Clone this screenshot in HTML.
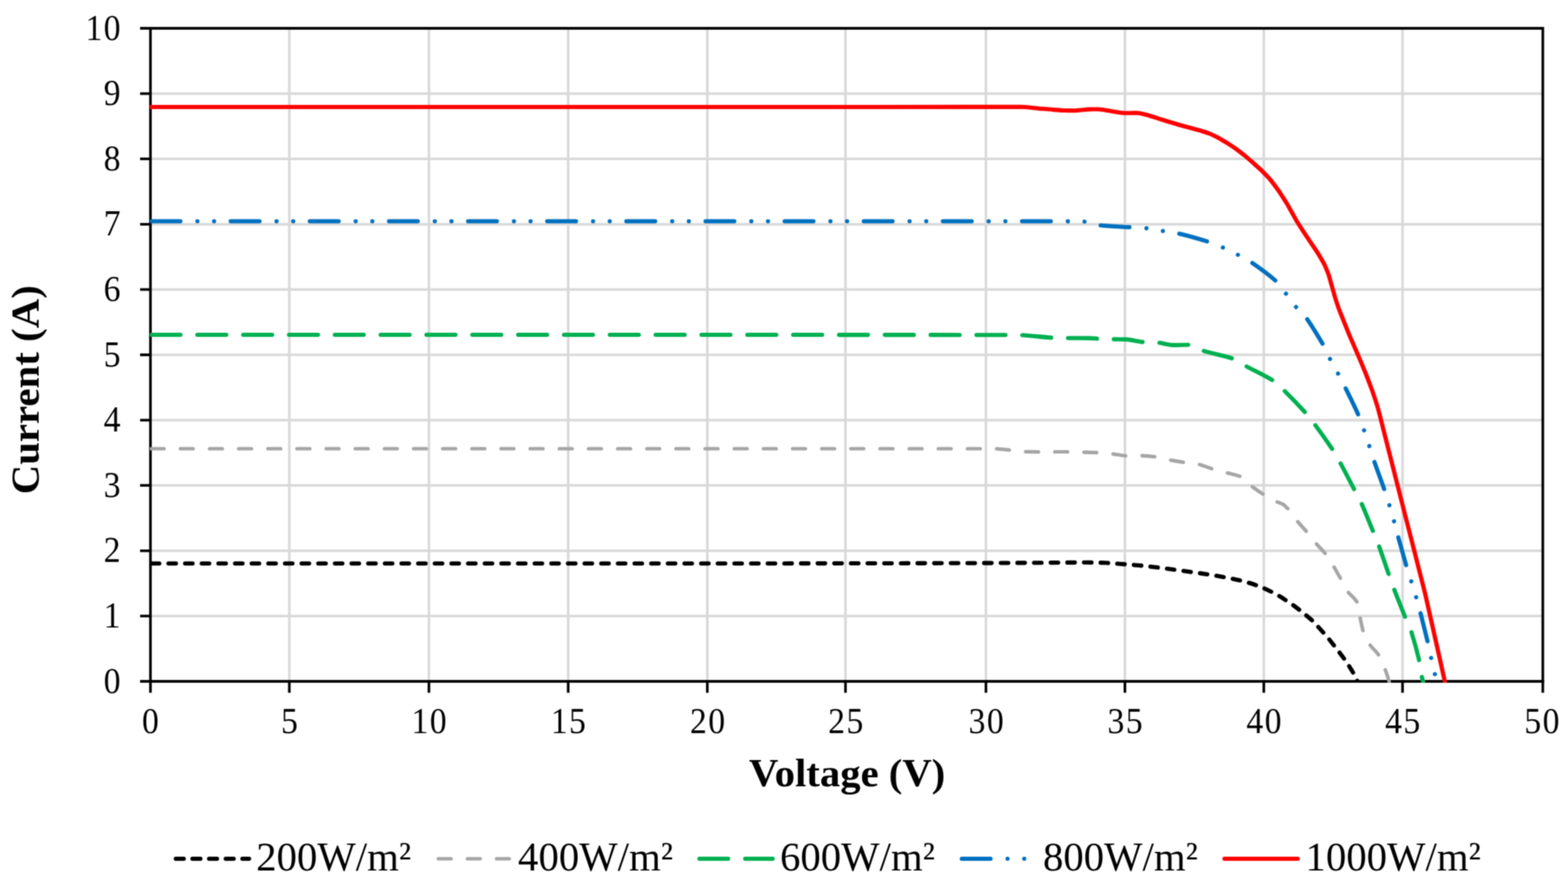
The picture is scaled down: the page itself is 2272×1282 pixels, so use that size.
<!DOCTYPE html>
<html lang="en"><head><meta charset="utf-8"><title>I-V curves at different irradiance</title>
<style>html,body{margin:0;padding:0;background:#fff}body{width:2272px;height:1282px;overflow:hidden}svg{display:block}text{font-family:"Liberation Serif","DejaVu Serif",serif;fill:#000}.tk{font-size:52.5px;letter-spacing:2.2px}.lg{font-size:59.1px}.tt{font-size:58px;font-weight:bold}.s{fill:none;stroke-linecap:round;stroke-linejoin:round}</style></head><body>
<svg width="2272" height="1282" viewBox="0 0 2272 1282">
<defs><filter id="soft" filterUnits="userSpaceOnUse" x="0" y="0" width="2272" height="1282" color-interpolation-filters="sRGB"><feConvolveMatrix order="3" kernelMatrix="1 2 1 2 4 2 1 2 1" divisor="16" edgeMode="duplicate" preserveAlpha="false"/></filter></defs>
<g filter="url(#soft)">
<rect width="2272" height="1282" fill="#fff"/>
<path d="M218.00 892.40H2235.50M218.00 797.80H2235.50M218.00 703.20H2235.50M218.00 608.60H2235.50M218.00 514.00H2235.50M218.00 419.40H2235.50M218.00 324.80H2235.50M218.00 230.20H2235.50M218.00 135.60H2235.50" stroke="#d9d9d9" stroke-width="3.70" fill="none"/>
<path d="M419.25 41.00V987.00M621.50 41.00V987.00M823.30 41.00V987.00M1024.90 41.00V987.00M1225.10 41.00V987.00M1428.60 41.00V987.00M1630.00 41.00V987.00M1831.25 41.00V987.00M2032.25 41.00V987.00" stroke="#d9d9d9" stroke-width="3.70" fill="none"/>
<path d="M203.00 41.00H2237.40M2235.50 41.00V1003.50M218.00 41.00V1003.50M203.00 987.00H218.00M203.00 892.40H218.00M203.00 797.80H218.00M203.00 703.20H218.00M203.00 608.60H218.00M203.00 514.00H218.00M203.00 419.40H218.00M203.00 324.80H218.00M203.00 230.20H218.00M203.00 135.60H218.00M419.25 987.00V1003.50M621.50 987.00V1003.50M823.30 987.00V1003.50M1024.90 987.00V1003.50M1225.10 987.00V1003.50M1428.60 987.00V1003.50M1630.00 987.00V1003.50M1831.25 987.00V1003.50M2032.25 987.00V1003.50" stroke="#000" stroke-width="3.80" fill="none"/>
<clipPath id="cp"><rect x="217.00" y="41.00" width="2018.50" height="948.10"/></clipPath>
<path d="M203.00 987.00H2237.40" stroke="#000" stroke-width="3.80" fill="none"/>
<g clip-path="url(#cp)">
<path class="s" d="M217.60 816.30C345.07 816.30 472.53 816.30 600.00 816.30C733.33 816.30 866.67 816.30 1000.00 816.30C1133.33 816.22 1266.67 816.01 1400.00 815.75C1433.33 815.63 1466.67 815.43 1500.00 815.25C1525.00 815.10 1550.00 814.83 1575.00 814.75C1583.33 814.83 1591.67 815.03 1600.00 815.25C1608.33 815.66 1616.67 816.40 1625.00 817.00C1633.33 817.64 1641.67 818.28 1650.00 819.00C1658.33 819.84 1666.67 820.79 1675.00 821.75C1683.33 822.78 1691.67 823.89 1700.00 825.00C1708.33 826.14 1716.67 827.33 1725.00 828.50C1733.33 829.67 1741.67 830.77 1750.00 832.00C1758.33 833.34 1766.67 834.75 1775.00 836.25C1783.33 837.90 1791.67 839.56 1800.00 841.50C1808.33 843.82 1816.67 846.40 1825.00 849.30C1833.33 852.82 1841.67 856.93 1850.00 861.25C1858.33 866.21 1866.67 871.77 1875.00 877.50C1883.33 883.81 1891.67 890.33 1900.00 897.60C1908.33 905.96 1916.67 915.44 1925.00 925.00C1933.33 935.33 1941.67 945.97 1950.00 957.50C1954.17 963.83 1958.33 970.24 1962.50 977.50C1964.00 980.46 1965.50 983.83 1967.00 987.00" stroke="#000000" stroke-width="6.10" stroke-dasharray="10.79 13.33" stroke-dashoffset="-2.40"/>
<path class="s" d="M217.60 650.00C345.07 650.00 472.53 650.00 600.00 650.00C733.33 650.00 866.67 650.00 1000.00 650.00C1140.83 650.00 1281.67 650.00 1422.50 650.00C1428.75 650.00 1435.00 650.00 1441.25 650.00C1449.00 650.30 1456.75 651.28 1464.50 652.00C1470.92 652.69 1477.33 653.78 1483.75 654.25C1491.50 654.48 1499.25 654.67 1507.00 654.75C1513.42 654.71 1519.83 654.54 1526.25 654.50C1533.92 654.50 1541.58 654.50 1549.25 654.50C1555.75 654.58 1562.25 654.82 1568.75 655.00C1576.25 655.23 1583.75 655.44 1591.25 655.75C1597.92 656.19 1604.58 656.85 1611.25 657.50C1618.75 658.38 1626.25 660.05 1633.75 660.50C1640.00 660.42 1646.25 660.08 1652.50 660.00C1660.00 660.26 1667.50 661.00 1675.00 661.75C1681.50 662.85 1688.00 664.88 1694.50 666.25C1702.00 667.61 1709.50 668.84 1717.00 670.00C1723.42 670.89 1729.83 671.47 1736.25 672.50C1743.33 674.27 1750.42 677.30 1757.50 679.50C1763.75 681.26 1770.00 682.82 1776.25 684.50C1783.50 686.48 1790.75 687.86 1798.00 690.50C1802.83 693.61 1807.67 699.45 1812.50 703.50C1818.67 708.14 1824.83 712.47 1831.00 716.50C1837.17 720.10 1843.33 723.52 1849.50 726.60C1852.60 727.95 1855.70 728.86 1858.80 730.40C1861.33 732.21 1863.87 734.72 1866.40 737.20C1870.93 742.51 1875.47 749.45 1880.00 755.20C1884.33 760.34 1888.67 764.95 1893.00 770.00C1897.83 775.85 1902.67 782.23 1907.50 788.00C1911.80 792.84 1916.10 796.88 1920.40 802.00C1924.53 807.78 1928.67 814.58 1932.80 821.20C1936.00 826.62 1939.20 832.38 1942.40 838.00C1946.17 844.65 1949.93 852.13 1953.70 858.00C1957.97 863.43 1962.23 865.43 1966.50 872.50C1967.93 877.52 1969.37 887.82 1970.80 895.00C1972.23 901.70 1973.67 909.10 1975.10 914.30C1978.37 922.50 1981.63 928.37 1984.90 934.00C1989.07 939.58 1993.23 942.80 1997.40 948.50C2000.83 954.84 2004.27 963.06 2007.70 971.40C2009.43 976.22 2011.17 981.80 2012.90 987.00" stroke="#a6a6a6" stroke-width="5.20" stroke-dasharray="18.44 23.80" stroke-dashoffset="-1.60"/>
<path class="s" d="M217.60 485.00C345.07 485.00 472.53 485.00 600.00 485.00C733.33 485.00 866.67 485.00 1000.00 485.00C1137.00 485.03 1274.00 485.10 1411.00 485.20C1426.92 485.22 1442.83 485.26 1458.75 485.30C1465.83 485.33 1472.92 485.35 1480.00 485.40C1494.58 486.03 1509.17 488.34 1523.75 489.20C1530.42 489.41 1537.08 489.59 1543.75 489.70C1555.83 489.79 1567.92 489.79 1580.00 489.90C1583.75 490.03 1587.50 490.40 1591.25 490.60C1597.50 490.87 1603.75 491.13 1610.00 491.30C1617.33 491.43 1624.67 491.46 1632.00 491.60C1640.50 492.31 1649.00 494.77 1657.50 495.60C1664.00 495.87 1670.50 495.93 1677.00 496.20C1684.27 496.96 1691.53 499.34 1698.80 499.90C1706.87 499.84 1714.93 499.56 1723.00 499.50C1729.08 500.70 1735.17 505.15 1741.25 507.50C1756.25 512.13 1771.25 514.53 1786.25 519.50C1792.08 522.23 1797.92 526.23 1803.75 529.50C1817.08 536.74 1830.42 542.54 1843.75 550.75C1849.17 554.93 1854.58 560.05 1860.00 565.00C1870.42 575.28 1880.83 586.05 1891.25 597.50C1895.67 602.76 1900.08 608.33 1904.50 614.00C1913.00 625.55 1921.50 637.32 1930.00 650.00C1933.93 656.37 1937.87 663.13 1941.80 670.00C1948.60 682.53 1955.40 695.99 1962.20 709.00C1965.73 715.76 1969.27 722.14 1972.80 729.30C1978.20 741.46 1983.60 755.28 1989.00 768.40C1992.00 775.76 1995.00 782.90 1998.00 790.60C2002.63 803.38 2007.27 817.52 2011.90 830.80C2014.53 838.25 2017.17 845.79 2019.80 853.00C2025.00 866.56 2030.20 879.54 2035.40 892.40C2038.50 899.83 2041.60 906.18 2044.70 914.30C2048.43 926.19 2052.17 938.86 2055.90 954.80C2057.17 961.73 2058.43 971.91 2059.70 978.70C2060.53 982.20 2061.37 984.90 2062.20 988.00" stroke="#00b050" stroke-width="6.10" stroke-dasharray="41.90 24.51" stroke-dashoffset="-1.95"/>
<path class="s" d="M217.60 320.50C345.07 320.50 472.53 320.50 600.00 320.50C733.33 320.50 866.67 320.50 1000.00 320.50C1133.33 320.50 1266.67 320.50 1400.00 320.50C1441.67 320.50 1483.33 320.50 1525.00 320.50C1540.00 320.55 1555.00 320.64 1570.00 320.80C1577.50 321.68 1585.00 324.98 1592.50 326.25C1607.92 327.63 1623.33 328.28 1638.75 329.25C1645.83 329.68 1652.92 329.98 1660.00 330.50C1668.08 331.48 1676.17 333.18 1684.25 334.50C1691.58 335.68 1698.92 336.69 1706.25 338.00C1720.83 341.37 1735.42 345.57 1750.00 350.00C1757.08 352.52 1764.17 355.34 1771.25 358.25C1778.50 361.54 1785.75 365.12 1793.00 368.75C1799.50 372.20 1806.00 375.64 1812.50 379.50C1824.58 387.80 1836.67 396.35 1848.75 407.00C1853.47 412.22 1858.18 418.77 1862.90 424.80C1867.70 431.10 1872.50 437.96 1877.30 444.00C1882.70 450.18 1888.10 455.09 1893.50 461.50C1901.10 472.29 1908.70 484.84 1916.30 497.90C1919.77 504.55 1923.23 512.24 1926.70 519.10C1930.60 526.45 1934.50 533.26 1938.40 540.50C1942.00 547.34 1945.60 554.23 1949.20 561.30C1955.43 573.99 1961.67 586.27 1967.90 600.30C1970.67 607.28 1973.43 614.96 1976.20 622.60C1978.77 630.02 1981.33 637.76 1983.90 645.50C1986.30 652.90 1988.70 660.71 1991.10 668.00C1995.97 682.02 2000.83 694.60 2005.70 708.60C2008.10 715.86 2010.50 723.33 2012.90 731.00C2015.20 738.69 2017.50 746.58 2019.80 754.70C2021.87 762.32 2023.93 770.51 2026.00 778.20C2029.83 792.00 2033.67 805.62 2037.50 818.70C2039.90 826.50 2042.30 833.84 2044.70 841.50C2047.07 849.14 2049.43 856.67 2051.80 864.60C2053.93 872.11 2056.07 879.86 2058.20 887.80C2061.60 901.05 2065.00 914.57 2068.40 928.80C2070.13 936.50 2071.87 944.85 2073.60 952.70C2075.40 960.65 2077.20 968.38 2079.00 976.20C2079.83 979.81 2080.67 983.40 2081.50 987.00" stroke="#0070c0" stroke-width="6.10" stroke-dasharray="41.68 24.70 0.01 24.13 0.01 24.13" stroke-dashoffset="-2.05"/>
<path class="s" d="M217.60 155.00C345.07 155.00 472.53 155.00 600.00 155.00C733.33 155.00 866.67 155.00 1000.00 155.00C1133.33 154.99 1266.67 154.95 1400.00 154.90C1426.25 154.87 1452.50 154.77 1478.75 154.75C1489.17 155.16 1499.58 156.61 1510.00 157.50C1520.42 158.36 1530.83 159.49 1541.25 160.00C1546.67 160.11 1552.08 160.21 1557.50 160.25C1564.58 159.97 1571.67 158.75 1578.75 158.40C1582.92 158.33 1587.08 158.27 1591.25 158.25C1597.50 158.66 1603.75 160.08 1610.00 161.00C1616.25 161.92 1622.50 163.34 1628.75 163.75C1631.67 163.75 1634.58 163.75 1637.50 163.75C1640.83 163.71 1644.17 163.54 1647.50 163.50C1651.67 163.88 1655.83 165.08 1660.00 166.00C1668.33 168.25 1676.67 171.19 1685.00 173.75C1693.33 176.27 1701.67 178.82 1710.00 181.25C1720.00 184.04 1730.00 186.52 1740.00 189.40C1744.17 190.70 1748.33 191.99 1752.50 193.50C1756.67 195.29 1760.83 197.39 1765.00 199.50C1769.17 201.80 1773.33 204.29 1777.50 206.80C1781.67 209.45 1785.83 212.16 1790.00 215.00C1794.17 218.04 1798.33 221.22 1802.50 224.50C1806.67 227.97 1810.83 231.66 1815.00 235.30C1819.17 239.00 1823.33 242.61 1827.50 246.50C1831.67 250.66 1835.83 254.88 1840.00 259.50C1844.17 264.64 1848.33 270.25 1852.50 276.00C1856.67 282.20 1860.83 288.77 1865.00 295.50C1869.58 303.36 1874.17 312.13 1878.75 320.00C1881.67 324.73 1884.58 329.22 1887.50 333.75C1891.67 340.08 1895.83 346.25 1900.00 352.50C1903.33 357.50 1906.67 362.31 1910.00 367.50C1912.92 372.32 1915.83 377.01 1918.75 382.50C1920.83 387.06 1922.92 391.96 1925.00 397.50C1926.67 402.75 1928.33 409.17 1930.00 415.00C1931.67 420.83 1933.33 426.91 1935.00 432.50C1936.67 437.71 1938.33 442.75 1940.00 447.50C1941.67 451.88 1943.33 455.83 1945.00 460.00C1948.33 468.33 1951.67 476.85 1955.00 485.00C1959.17 494.81 1963.33 504.07 1967.50 513.75C1971.17 522.41 1974.83 531.01 1978.50 540.00C1981.67 548.11 1984.83 556.35 1988.00 565.00C1990.50 572.24 1993.00 579.52 1995.50 587.50C1996.63 591.46 1997.77 595.76 1998.90 600.00C2002.27 613.02 2005.63 626.69 2009.00 640.00C2017.47 673.40 2025.93 706.70 2034.40 740.00C2044.60 780.04 2054.80 818.58 2065.00 860.00C2074.50 900.86 2084.00 944.67 2093.50 987.00" stroke="#ff0000" stroke-width="6.10"/>
</g>
<text class="tk" transform="translate(176.80 1003.50) scale(0.930 1)" text-anchor="end">0</text>
<text class="tk" transform="translate(176.80 908.90) scale(0.930 1)" text-anchor="end">1</text>
<text class="tk" transform="translate(176.80 814.30) scale(0.930 1)" text-anchor="end">2</text>
<text class="tk" transform="translate(176.80 719.70) scale(0.930 1)" text-anchor="end">3</text>
<text class="tk" transform="translate(176.80 625.10) scale(0.930 1)" text-anchor="end">4</text>
<text class="tk" transform="translate(176.80 530.50) scale(0.930 1)" text-anchor="end">5</text>
<text class="tk" transform="translate(176.80 435.90) scale(0.930 1)" text-anchor="end">6</text>
<text class="tk" transform="translate(176.80 341.30) scale(0.930 1)" text-anchor="end">7</text>
<text class="tk" transform="translate(176.80 246.70) scale(0.930 1)" text-anchor="end">8</text>
<text class="tk" transform="translate(176.80 152.10) scale(0.930 1)" text-anchor="end">9</text>
<text class="tk" transform="translate(176.80 57.50) scale(0.930 1)" text-anchor="end">10</text>
<text class="tk" transform="translate(218.92 1061.90) scale(0.930 1)" text-anchor="middle">0</text>
<text class="tk" transform="translate(420.55 1061.90) scale(0.930 1)" text-anchor="middle">5</text>
<text class="tk" transform="translate(622.80 1061.90) scale(0.930 1)" text-anchor="middle">10</text>
<text class="tk" transform="translate(824.60 1061.90) scale(0.930 1)" text-anchor="middle">15</text>
<text class="tk" transform="translate(1026.20 1061.90) scale(0.930 1)" text-anchor="middle">20</text>
<text class="tk" transform="translate(1226.40 1061.90) scale(0.930 1)" text-anchor="middle">25</text>
<text class="tk" transform="translate(1429.90 1061.90) scale(0.930 1)" text-anchor="middle">30</text>
<text class="tk" transform="translate(1631.30 1061.90) scale(0.930 1)" text-anchor="middle">35</text>
<text class="tk" transform="translate(1832.55 1061.90) scale(0.930 1)" text-anchor="middle">40</text>
<text class="tk" transform="translate(2033.55 1061.90) scale(0.930 1)" text-anchor="middle">45</text>
<text class="tk" transform="translate(2235.22 1061.90) scale(0.930 1)" text-anchor="middle">50</text>
<text class="tt" x="1227.5" y="1139" text-anchor="middle" textLength="284.5" lengthAdjust="spacingAndGlyphs">Voltage (V)</text>
<text class="tt" transform="translate(55.5 564.6) rotate(-90)" text-anchor="middle" textLength="303" lengthAdjust="spacingAndGlyphs">Current (A)</text>
<path class="s" d="M254.70 1244H360.90" stroke="#000000" stroke-width="6.00" stroke-dasharray="11.59 12.53"/>
<text class="lg" x="371.20" y="1260.5">200W/m²</text>
<path class="s" d="M635.00 1244H742.20" stroke="#a6a6a6" stroke-width="5.00" stroke-dasharray="18.62 23.59"/>
<text class="lg" x="750.60" y="1260.5">400W/m²</text>
<path class="s" d="M1013.40 1244H1119.60" stroke="#00b050" stroke-width="6.00" stroke-dasharray="41.74 24.59"/>
<text class="lg" x="1130.20" y="1260.5">600W/m²</text>
<path class="s" d="M1393.60 1244H1499.80" stroke="#0070c0" stroke-width="6.00" stroke-dasharray="41.74 24.59 0.01 24.11 0.01 24.11"/>
<text class="lg" x="1511.20" y="1260.5">800W/m²</text>
<path class="s" d="M1774.20 1244H1880.40" stroke="#ff0000" stroke-width="6.00"/>
<text class="lg" x="1891.60" y="1260.5">1000W/m²</text>
</g>
</svg></body></html>
